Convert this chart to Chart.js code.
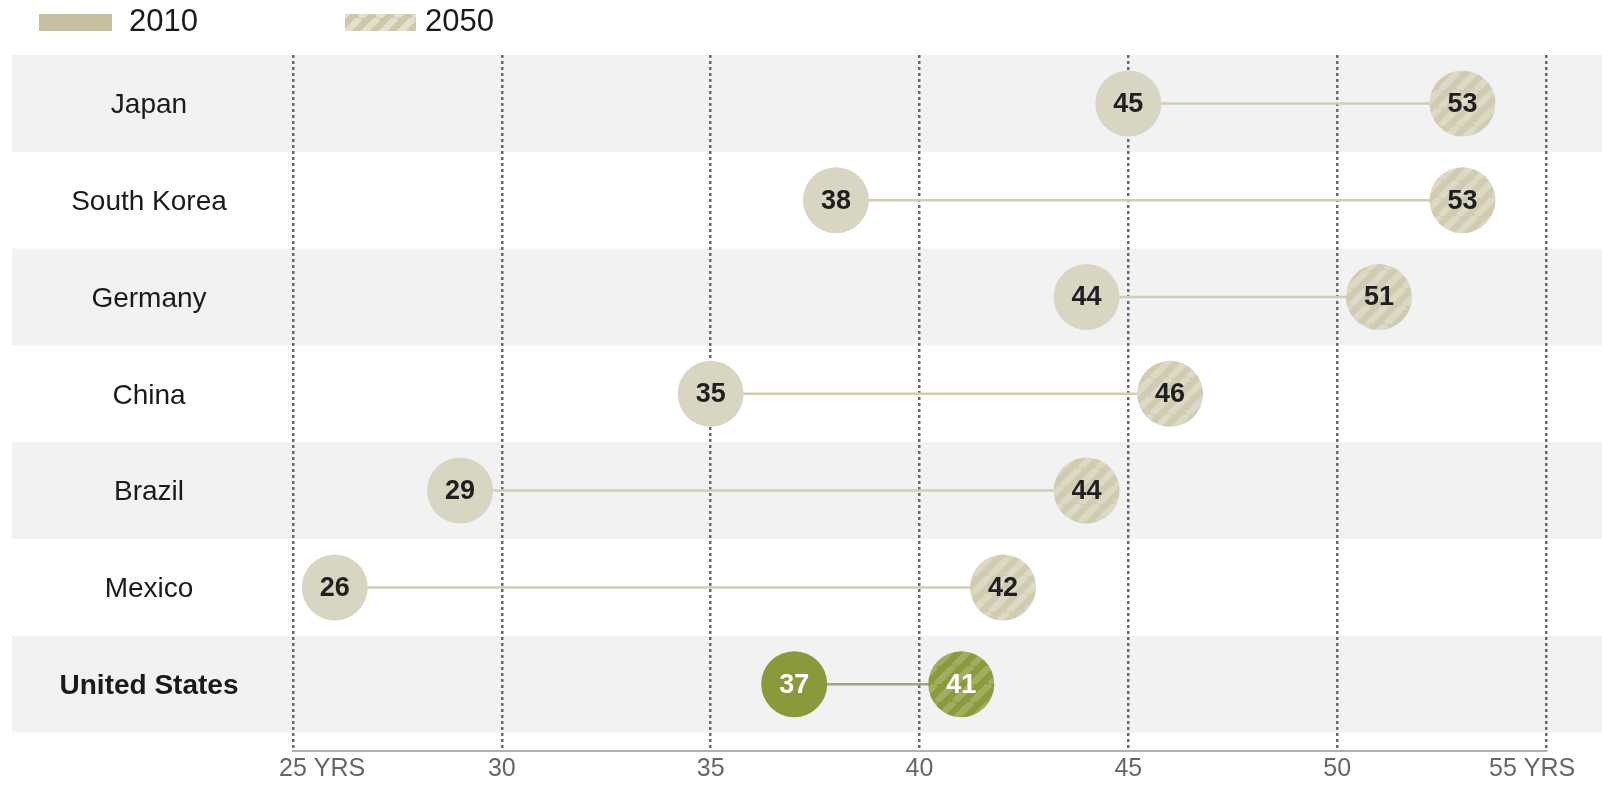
<!DOCTYPE html>
<html>
<head>
<meta charset="utf-8">
<script src="https://cdn.jsdelivr.net/npm/chart.js@4/dist/chart.umd.min.js"></script>
<style>
  html, body { margin: 0; padding: 0; background: #ffffff; }
  #wrap { width: 1602px; height: 787px; }
</style>
</head>
<body>
<div id="wrap"><canvas id="c" width="1602" height="787"></canvas></div>
<script>
// ---- data ----
const countries = ['Japan', 'South Korea', 'Germany', 'China', 'Brazil', 'Mexico', 'United States'];
const age2010 = [45, 38, 44, 35, 29, 26, 37];
const age2050 = [53, 53, 51, 46, 44, 42, 41];
const seriesLabels = ['2010', '2050'];
const tickValues = [25, 30, 35, 40, 45, 50, 55];
const tickLabels = ['25', '30', '35', '40', '45', '50', '55'];
const tickSuffix = [' YRS', '', '', '', '', '', ' YRS'];
const highlight = 'United States';

// ---- styles ----
const FONT = '"Liberation Sans", Arial, sans-serif';
const BEIGE = '#d9d5c3';
const OLIVE = '#8a9a3b';
const LINE_BEIGE = '#d3ccb1';
const LINE_OLIVE = '#a4a67a';
const TICK_COLOR = '#666666';
const TICK_FONT = '25px ' + FONT;

function stripe(base, light, size, w) {
  const c = document.createElement('canvas');
  c.width = c.height = size;
  const g = c.getContext('2d');
  g.fillStyle = base;
  g.fillRect(0, 0, size, size);
  g.strokeStyle = light;
  g.lineWidth = w;
  g.beginPath();
  for (const o of [-size, 0, size]) { g.moveTo(o, size); g.lineTo(o + size, 0); }
  g.stroke();
  return g.createPattern(c, 'repeat');
}
const BEIGE_STRIPE = stripe('#d1cbb2', '#ddd9c7', 18, 6.5);
const OLIVE_STRIPE = stripe('#8b9a3d', '#a2ae5f', 18, 6.5);
const LEGEND_STRIPE = stripe('#cdc7ab', '#e4e0d0', 18, 6.5);

const isHL = i => countries[i] === highlight;

const lineSets = countries.map((c, i) => ({
  type: 'line',
  data: [{ x: age2010[i], y: i }, { x: age2050[i], y: i }],
  borderColor: isHL(i) ? LINE_OLIVE : LINE_BEIGE,
  borderWidth: 2.5,
  pointRadius: 0,
  order: 10
}));

const dots2010 = {
  type: 'scatter',
  label: seriesLabels[0],
  data: countries.map((c, i) => ({ x: age2010[i], y: i })),
  backgroundColor: countries.map((c, i) => isHL(i) ? OLIVE : BEIGE),
  borderWidth: 0,
  pointRadius: 33,
  pointHoverRadius: 33,
  order: 1
};
const dots2050 = {
  type: 'scatter',
  label: seriesLabels[1],
  data: countries.map((c, i) => ({ x: age2050[i], y: i })),
  backgroundColor: countries.map((c, i) => isHL(i) ? OLIVE_STRIPE : BEIGE_STRIPE),
  borderWidth: 0,
  pointRadius: 33,
  pointHoverRadius: 33,
  order: 1
};

const bandsPlugin = {
  id: 'bands',
  beforeDraw(chart) {
    const { ctx } = chart;
    const y = chart.scales.y;
    ctx.save();
    countries.forEach((c, i) => {
      if (i % 2 === 0) {
        const t = y.getPixelForValue(i - 0.5);
        const b = y.getPixelForValue(i + 0.5);
        ctx.fillStyle = '#f2f2f2';
        ctx.fillRect(12, t, chart.width - 12, b - t);
      }
    });
    // row labels
    ctx.fillStyle = '#1a1a1a';
    ctx.textAlign = 'center';
    ctx.textBaseline = 'middle';
    countries.forEach((c, i) => {
      ctx.font = (isHL(i) ? 'bold ' : '') + '28px ' + FONT;
      ctx.fillText(c, 149, y.getPixelForValue(i) + 2);
    });
    // legend
    ctx.textAlign = 'left';
    ctx.font = '31px ' + FONT;
    ctx.fillStyle = '#c6bf9f';
    ctx.fillRect(39, 14, 73, 17);
    ctx.fillStyle = LEGEND_STRIPE;
    ctx.fillRect(345, 14, 71, 17);
    ctx.fillStyle = '#1a1a1a';
    ctx.fillText(seriesLabels[0], 129, 22);
    ctx.fillText(seriesLabels[1], 425, 22);
    ctx.restore();
  },
  afterDraw(chart) {
    // end tick labels carry the unit: the first starts at its number, the last ends past its tick
    const { ctx } = chart;
    const x = chart.scales.x;
    ctx.save();
    ctx.font = TICK_FONT;
    ctx.fillStyle = TICK_COLOR;
    ctx.textBaseline = 'middle';
    const yPos = x.top + 3 + 15;
    const last = tickValues.length - 1;
    tickValues.forEach((v, k) => {
      if (!tickSuffix[k]) return;
      const full = tickLabels[k] + tickSuffix[k];
      const px = x.getPixelForValue(v);
      if (k === last) {
        ctx.textAlign = 'right';
        ctx.fillText(full, px + ctx.measureText(tickSuffix[k]).width / 2, yPos);
      } else {
        ctx.textAlign = 'left';
        ctx.fillText(full, px - ctx.measureText(tickLabels[k]).width / 2, yPos);
      }
    });
    ctx.restore();
  }
};

const valueLabels = {
  id: 'valueLabels',
  afterDatasetsDraw(chart) {
    const { ctx } = chart;
    ctx.save();
    ctx.textAlign = 'center';
    ctx.textBaseline = 'middle';
    ctx.font = 'bold 27px ' + FONT;
    [dots2010, dots2050].forEach((ds, k) => {
      const idx = chart.data.datasets.indexOf(ds);
      const meta = chart.getDatasetMeta(idx);
      meta.data.forEach((pt, i) => {
        const v = k === 0 ? age2010[i] : age2050[i];
        ctx.fillStyle = isHL(i) ? '#ffffff' : '#1f1f1f';
        ctx.fillText(String(v), pt.x, pt.y + 1);
      });
    });
    ctx.restore();
  }
};

new Chart(document.getElementById('c'), {
  type: 'scatter',
  data: { datasets: [...lineSets, dots2010, dots2050] },
  options: {
    responsive: false,
    animation: false,
    events: [],
    layout: { padding: { left: 293, right: 56, top: 55, bottom: 0 } },
    plugins: { legend: { display: false }, tooltip: { enabled: false } },
    scales: {
      x: {
        type: 'linear',
        min: 25,
        max: 55,
        afterBuildTicks(scale) { scale.ticks = tickValues.map(v => ({ value: v })); },
        ticks: {
          padding: 3,
          color: TICK_COLOR,
          font: { family: FONT, size: 25 },
          maxRotation: 0,
          autoSkip: false,
          callback: (v) => {
            const k = tickValues.indexOf(v);
            return (k >= 0 && !tickSuffix[k]) ? tickLabels[k] : '';
          }
        },
        grid: { color: '#6a6a6a', lineWidth: 2.5, drawTicks: false },
        border: { display: true, color: '#b0b0b0', width: 2, dash: [3, 3] }
      },
      y: {
        type: 'linear',
        reverse: true,
        min: -0.5,
        max: 6.69,
        display: false
      }
    }
  },
  plugins: [bandsPlugin, valueLabels]
});
</script>
</body>
</html>
